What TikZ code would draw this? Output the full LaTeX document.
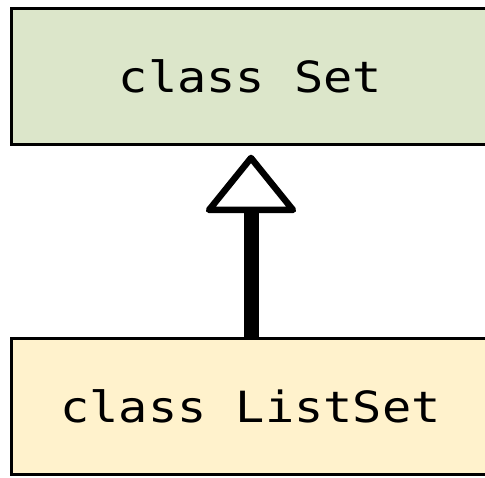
\documentclass[tikz,border=0pt]{standalone}
\usepackage{fontspec}
\newfontfamily\codefont[FakeStretch=1.13]{DejaVu Sans Mono}
\usetikzlibrary{calc}
\definecolor{topgreen}{HTML}{DCE6CA}
\definecolor{botyellow}{HTML}{FFF2CC}
\tikzset{
  classbox/.style={draw=black, line width=3.3pt, rectangle, minimum width=478pt,
    minimum height=136pt, inner sep=0pt, font=\codefont\fontsize{43}{43}\selectfont},
  shaft/.style={line width=15pt},
  headtri/.style={draw=black, fill=white, line width=6.5pt, line join=round}
}
\begin{document}
\begin{tikzpicture}[x=1pt,y=-1pt]
\useasboundingbox (0,0) rectangle (485,478);
\clip (0,0) rectangle (485,478);
\node[classbox, fill=topgreen] (set) at (250.5,76.8) {class Set};
\node[classbox, fill=botyellow] (listset) at (250.5,406.2) {class ListSet};
\coordinate (apex) at (251,158);
\coordinate (tipbase) at (251,210);
\draw[shaft] (listset.north -| tipbase) -- (tipbase);
\draw[headtri] (apex) -- ++(42,52) -- ++(-84,0) -- cycle;
\end{tikzpicture}
\end{document}
